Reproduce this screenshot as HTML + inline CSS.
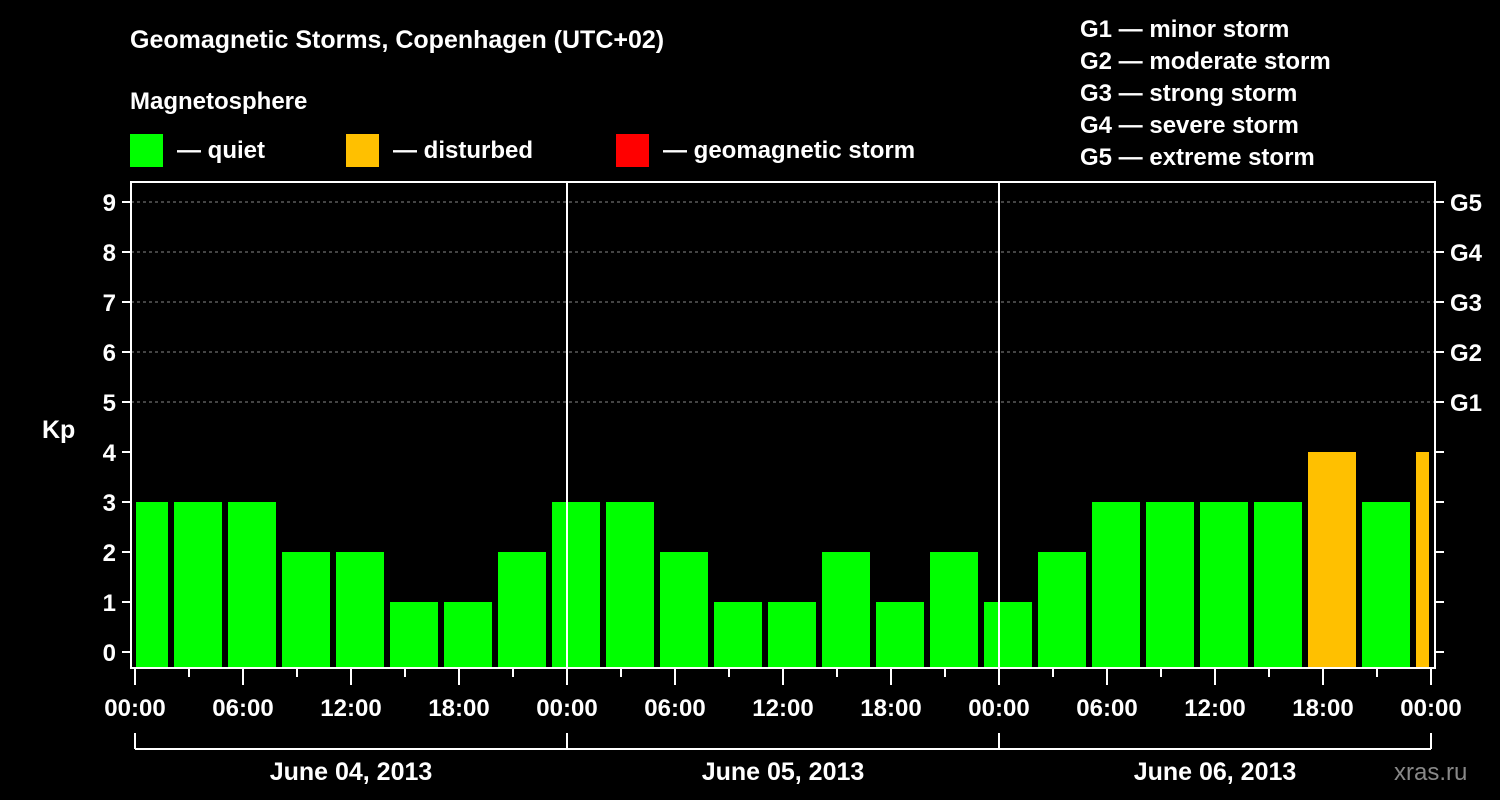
<!DOCTYPE html>
<html><head><meta charset="utf-8"><style>
body{margin:0;background:#000;}
svg{display:block;font-family:"Liberation Sans",sans-serif;font-weight:bold;}
</style></head><body>
<svg id="chart" width="1500" height="800">
<text x="130" y="48" fill="#fff" font-size="25">Geomagnetic Storms, Copenhagen (UTC+02)</text>
<text x="130" y="109" fill="#fff" font-size="24">Magnetosphere</text>
<rect x="130" y="134" width="33" height="33" fill="#00ff00"/>
<text x="177" y="158" fill="#fff" font-size="24">— quiet</text>
<rect x="346" y="134" width="33" height="33" fill="#ffc000"/>
<text x="393" y="158" fill="#fff" font-size="24">— disturbed</text>
<rect x="616" y="134" width="33" height="33" fill="#ff0000"/>
<text x="663" y="158" fill="#fff" font-size="24">— geomagnetic storm</text>
<g fill="#fff" font-size="24">
<text x="1080" y="37">G1 — minor storm</text>
<text x="1080" y="69">G2 — moderate storm</text>
<text x="1080" y="101">G3 — strong storm</text>
<text x="1080" y="133">G4 — severe storm</text>
<text x="1080" y="165">G5 — extreme storm</text>
</g>
<text x="42" y="438" fill="#fff" font-size="25">Kp</text>
<text x="1394" y="780" fill="#888" font-size="24" font-weight="normal">xras.ru</text>
<g id="plot"></g>
</svg>
<script>
const kpValues=[3,3,3,2,2,1,1,2,3,3,2,1,1,2,1,2,1,2,3,3,3,3,4,3,4];
const yTicks=[0,1,2,3,4,5,6,7,8,9];
const gLabels=["G1","G2","G3","G4","G5"];
const xTickLabels=["00:00","06:00","12:00","18:00","00:00","06:00","12:00","18:00","00:00","06:00","12:00","18:00","00:00"];
const dayLabels=["June 04, 2013","June 05, 2013","June 06, 2013"];
const NS="http://www.w3.org/2000/svg";
const g=document.getElementById('plot');
const X0=135,PX_H=18,Y0=652,PX_K=50,LEFT=131,RIGHT=1435,TOP=182,BOT=668;
const xs=h=>X0+h*PX_H, ys=k=>Y0-k*PX_K;
function mk(t,a,p){const e=document.createElementNS(NS,t);for(const k in a)e.setAttribute(k,a[k]);(p||g).appendChild(e);return e;}
// grid
yTicks.forEach(k=>{
 if(k>=5){const l=mk('line',{x1:LEFT,x2:RIGHT,y1:ys(k),y2:ys(k),stroke:'#888','stroke-dasharray':'3,3'});
 
 }
 const t1=mk('line',{x1:LEFT-9,x2:LEFT,y1:ys(k),y2:ys(k),stroke:'#fff','stroke-width':2});
 
 
 const t2=mk('line',{x1:RIGHT,x2:RIGHT+9,y1:ys(k),y2:ys(k),stroke:'#fff','stroke-width':2});
 
 
 const tx=mk('text',{x:LEFT-15,y:ys(k)+9,fill:'#fff','font-size':24,'text-anchor':'end'});
 tx.textContent=k;
 
 
});
gLabels.forEach((s,i)=>{
 const tx=mk('text',{x:1450,y:ys(5+i)+9,fill:'#fff','font-size':24});
 tx.textContent=s;
 
 
});
// bars
kpValues.forEach((v,i)=>{
 let h0=3*i-1,h1=3*i+2;
 let x0=xs(h0)+3,x1=xs(h1)-3;
 x0=Math.max(x0,xs(0)+1);x1=Math.min(x1,xs(72)-2);
 const r=mk('rect',{x:x0,y:ys(v),width:x1-x0,height:BOT-ys(v),fill:v>=5?'#ff0000':v>=4?'#ffc000':'#00ff00'});
 
 
});
// day separators
[24,48].forEach(h=>{const l=mk('line',{x1:xs(h),x2:xs(h),y1:TOP,y2:BOT,stroke:'#fff','stroke-width':2});
 
 });
// frame
const f=mk('rect',{x:LEFT,y:TOP,width:RIGHT-LEFT,height:BOT-TOP,fill:'none',stroke:'#fff','stroke-width':2});


// x ticks
for(let h=0;h<=72;h+=3){
 const l=mk('line',{x1:xs(h),x2:xs(h),y1:BOT,y2:BOT+(h%6?9:17),stroke:'#fff','stroke-width':2});
 
 
}
xTickLabels.forEach((s,i)=>{
 const tx=mk('text',{x:xs(i*6),y:716,fill:'#fff','font-size':24,'text-anchor':'middle'});
 tx.textContent=s;
 
 
});
// day brackets
const b=mk('line',{x1:xs(0),x2:xs(72),y1:749,y2:749,stroke:'#fff','stroke-width':2});


[0,24,48,72].forEach(h=>{const l=mk('line',{x1:xs(h),x2:xs(h),y1:733,y2:749,stroke:'#fff','stroke-width':2});
 
 });
dayLabels.forEach((s,i)=>{
 const tx=mk('text',{x:xs(i*24+12),y:780,fill:'#fff','font-size':25,'text-anchor':'middle'});
 tx.textContent=s;
 
 
});
</script>
</body></html>
